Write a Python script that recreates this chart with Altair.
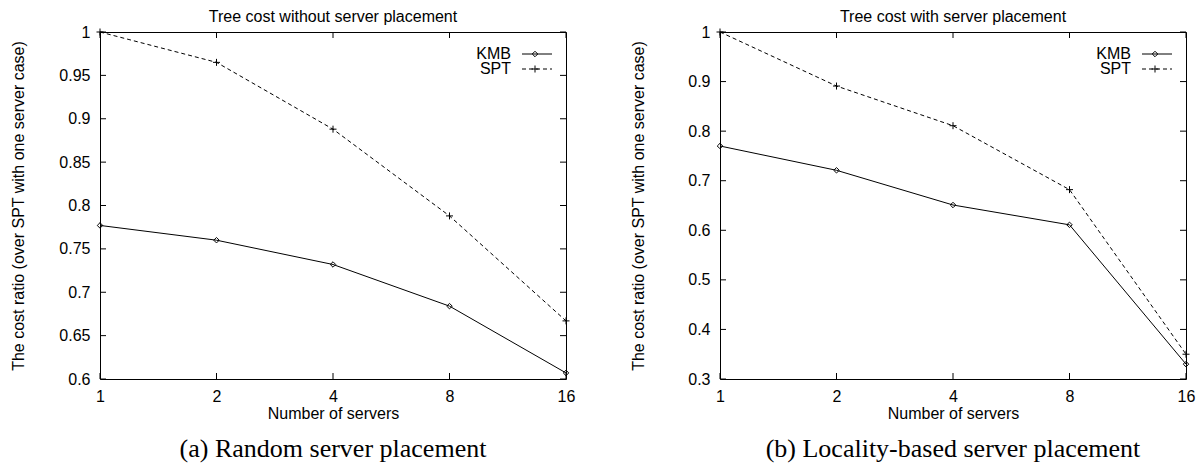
import altair as alt
import pandas as pd

# ---- data ----
servers = [1, 2, 4, 8, 16]
kmb_random = [0.777, 0.760, 0.732, 0.684, 0.607]
spt_random = [1.000, 0.965, 0.888, 0.788, 0.667]
kmb_locality = [0.770, 0.721, 0.651, 0.611, 0.330]
spt_locality = [1.000, 0.891, 0.811, 0.682, 0.350]
yticks_random = [0.6, 0.65, 0.7, 0.75, 0.8, 0.85, 0.9, 0.95, 1.0]
yticks_locality = [0.3, 0.4, 0.5, 0.6, 0.7, 0.8, 0.9, 1.0]
xticks = [1, 2, 4, 8, 16]
titles = ["Tree cost without server placement", "Tree cost with server placement"]
captions = ["(a) Random server placement", "(b) Locality-based server placement"]
series_names = ["KMB", "SPT"]
ytitle = "The cost ratio (over SPT with one server case)"
xtitle = "Number of servers"

W, H = 466, 347
SANS = "Liberation Sans"
SERIF = "Liberation Serif"
FS = 16
PLUS = "M-1,0L1,0M0,-1L0,1"

AX = dict(labelFont=SANS, labelFontSize=FS, labelColor="black",
          titleFont=SANS, titleFontSize=FS, titleFontWeight="normal", titleColor="black")


def panel(kmb, spt, yticks, title, caption):
    df = pd.DataFrame({"servers": servers, "KMB": kmb, "SPT": spt})
    xs = alt.Scale(type="log", base=2, domain=[xticks[0], xticks[-1]], nice=False)
    ys = alt.Scale(domain=[yticks[0], yticks[-1]], nice=False, zero=False)
    xaxis = alt.Axis(values=xticks, format="d", tickSize=0, labelPadding=9,
                     domain=False, grid=False, labelFlush=False,
                     titleY=39, titleBaseline="alphabetic", **AX)
    yaxis = alt.Axis(values=yticks, format="~g", tickSize=0, labelPadding=10,
                     domain=False, grid=False, titleX=-77, titleY=H / 2,
                     titleAngle=-90, titleBaseline="alphabetic", titleAlign="center", **AX)

    def X(f):
        return alt.X(f"{f}:Q", scale=xs, axis=xaxis, title=xtitle)

    def Y(f):
        return alt.Y(f"{f}:Q", scale=ys, axis=yaxis, title=ytitle)

    base = alt.Chart(df)
    kmb_line = base.mark_line(color="black", strokeWidth=1).encode(x=X("servers"), y=Y("KMB"))
    kmb_pts = base.mark_point(shape="diamond", size=30, color="black", strokeWidth=1,
                              filled=False, opacity=1).encode(x=X("servers"), y=Y("KMB"))
    spt_line = base.mark_line(color="black", strokeWidth=1, strokeDash=[4, 3]).encode(
        x=X("servers"), y=Y("SPT"))
    spt_pts = base.mark_point(shape=PLUS, size=49, color="black", strokeWidth=1,
                              filled=False, opacity=1).encode(x=X("servers"), y=Y("SPT"))

    ydf = pd.DataFrame({"tick": yticks})
    xdf = pd.DataFrame({"xt": xticks})
    yt_l = alt.Chart(ydf).mark_rule(color="black", strokeWidth=1).encode(
        y=Y("tick"), x=alt.value(0), x2=alt.value(6))
    yt_r = alt.Chart(ydf).mark_rule(color="black", strokeWidth=1).encode(
        y=Y("tick"), x=alt.value(W), x2=alt.value(W - 6))
    xt_b = alt.Chart(xdf).mark_rule(color="black", strokeWidth=1).encode(
        x=X("xt"), y=alt.value(H), y2=alt.value(H - 6))
    xt_t = alt.Chart(xdf).mark_rule(color="black", strokeWidth=1).encode(
        x=X("xt"), y=alt.value(0), y2=alt.value(6))

    one = alt.Chart(pd.DataFrame({"k": [0]}))
    layers = [xt_b, xt_t, yt_l, yt_r, spt_line, kmb_line, spt_pts, kmb_pts]

    # legend (inside, top right)
    for i, name in enumerate(series_names):
        ly = 22 + 15 * i
        layers.append(one.mark_text(text=name, align="right", baseline="middle", font=SANS,
                                    fontSize=FS, color="black").encode(
            x=alt.value(W - 55), y=alt.value(ly)))
        rule_kw = dict(color="black", strokeWidth=1)
        if i == 1:
            rule_kw["strokeDash"] = [4, 3]
        layers.append(one.mark_rule(**rule_kw).encode(
            x=alt.value(W - 44), x2=alt.value(W - 14), y=alt.value(ly)))
        layers.append(one.mark_point(shape="diamond" if i == 0 else PLUS,
                                     size=30 if i == 0 else 49, color="black",
                                     strokeWidth=1, filled=False, opacity=1).encode(
            x=alt.value(W - 31), y=alt.value(ly)))

    # panel title and caption
    layers.append(one.mark_text(text=title, align="center", baseline="alphabetic", font=SANS,
                                fontSize=FS, color="black").encode(
        x=alt.value(W / 2), y=alt.value(-10)))
    layers.append(one.mark_text(text=caption, align="center", baseline="alphabetic", font=SERIF,
                                fontSize=26, color="black").encode(
        x=alt.value(W / 2), y=alt.value(H + 78)))

    return alt.layer(*layers).properties(width=W, height=H)


left = panel(kmb_random, spt_random, yticks_random, titles[0], captions[0])
right = panel(kmb_locality, spt_locality, yticks_locality, titles[1], captions[1])

chart = alt.hconcat(left, right, spacing=53).properties(
    padding={"left": 1, "top": 0, "right": 0, "bottom": 0},
    background="white",
).configure_view(
    stroke="black", strokeWidth=1
).configure_axis(**AX)

chart.save("out.html", embed_options={"renderer": "svg", "actions": False})
